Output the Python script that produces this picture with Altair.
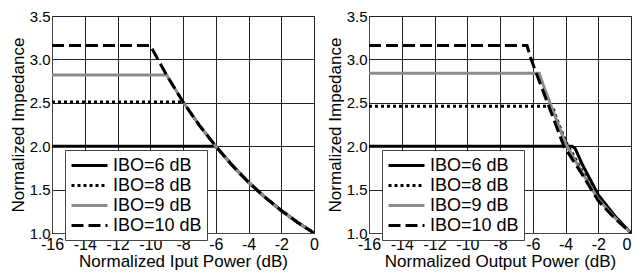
import altair as alt
import pandas as pd

series_names = ["IBO=6 dB", "IBO=8 dB", "IBO=9 dB", "IBO=10 dB"]

# Left panel: normalized input power (dB) vs normalized impedance
in_x_6 = [-16, -6, -5, -4, -3, -2, -1, 0]
in_y_6 = [2.0, 2.0, 1.78, 1.585, 1.413, 1.259, 1.122, 1.0]
in_x_8 = [-16, -8, -7, -6, -5, -4, -3, -2, -1, 0]
in_y_8 = [2.51, 2.51, 2.24, 2.0, 1.78, 1.585, 1.413, 1.259, 1.122, 1.0]
in_x_9 = [-16, -9, -8, -7, -6, -5, -4, -3, -2, -1, 0]
in_y_9 = [2.82, 2.82, 2.51, 2.24, 2.0, 1.78, 1.585, 1.413, 1.259, 1.122, 1.0]
in_x_10 = [-16, -10, -9, -8, -7, -6, -5, -4, -3, -2, -1, 0]
in_y_10 = [3.16, 3.16, 2.82, 2.51, 2.24, 2.0, 1.78, 1.585, 1.413, 1.259, 1.122, 1.0]

# Right panel: normalized output power (dB) vs normalized impedance
out_x_6 = [-16, -3.6, -3.4, -3.0, -2.0, -1.0, 0]
out_y_6 = [2.0, 2.0, 1.97, 1.8, 1.44, 1.2, 1.0]
out_x_8 = [-16, -4.8, -4.6, -4.3, -3.9, -3.0, -2.0, -1.0, 0]
out_y_8 = [2.46, 2.46, 2.35, 2.2, 2.02, 1.72, 1.4, 1.19, 1.0]
out_x_9 = [-16, -5.6, -5.35, -4.95, -4.0, -3.0, -2.0, -1.0, 0]
out_y_9 = [2.84, 2.84, 2.7, 2.5, 2.03, 1.7, 1.39, 1.18, 1.0]
out_x_10 = [-16, -6.35, -6.1, -5.6, -5.1, -4.6, -4.1, -3.0, -2.0, -1.0, 0]
out_y_10 = [3.16, 3.16, 3.0, 2.75, 2.5, 2.25, 2.0, 1.68, 1.37, 1.17, 1.0]

x_ticks = list(range(-16, 1, 2))
y_ticks = [1.0, 1.5, 2.0, 2.5, 3.0, 3.5]

FONT = "Liberation Sans"


def make_df(groups):
    rows = []
    for name, xs, ys in groups:
        for i, (a, b) in enumerate(zip(xs, ys)):
            rows.append({"series": name, "x": a, "y": b, "i": i})
    return pd.DataFrame(rows)


df_in = make_df([
    (series_names[0], in_x_6, in_y_6),
    (series_names[1], in_x_8, in_y_8),
    (series_names[2], in_x_9, in_y_9),
    (series_names[3], in_x_10, in_y_10),
])
df_out = make_df([
    (series_names[0], out_x_6, out_y_6),
    (series_names[1], out_x_8, out_y_8),
    (series_names[2], out_x_9, out_y_9),
    (series_names[3], out_x_10, out_y_10),
])


def panel(df, xtitle, last_right):
    legend = alt.Legend(
        title=None, orient="none", legendX=13, legendY=134,
        symbolType="M-1,0H3", symbolSize=324, symbolStrokeWidth=3,
        labelFont=FONT, labelFontSize=18, labelColor="black",
        labelOffset=22, padding=5, rowPadding=0,
        strokeColor="#444", fillColor="white", cornerRadius=0,
    )
    if last_right:
        x_align = {"condition": {"test": "datum.value === 0", "value": "right"},
                   "value": "center"}
    else:
        x_align = "center"
    return alt.Chart(df).mark_line(strokeWidth=3, clip=True).encode(
        x=alt.X("x:Q", title=xtitle,
                scale=alt.Scale(domain=[-16, 0], nice=False, zero=False),
                axis=alt.Axis(values=x_ticks, labelExpr="datum.value + ''",
                              labelFlush=False, labelOverlap=False,
                              labelAlign=x_align, labelFontSize=16,
                              titlePadding=1, labelPadding=3)),
        y=alt.Y("y:Q", title="Normalized Impedance",
                scale=alt.Scale(domain=[1.0, 3.5], nice=False, zero=False),
                axis=alt.Axis(values=y_ticks, format=".1f", labelFlush=False,
                              labelOverlap=False, labelFontSize=15,
                              titlePadding=2, labelPadding=2)),
        color=alt.Color("series:N", legend=legend,
                        scale=alt.Scale(domain=series_names,
                                        range=["black", "black", "#8c8c8c", "black"])),
        strokeDash=alt.StrokeDash("series:N", legend=legend,
                                  scale=alt.Scale(domain=series_names,
                                                  range=[[1, 0], [3, 3], [1, 0], [12, 5]])),
        detail="series:N",
        order="i:Q",
    ).properties(width=262, height=217)


left = panel(df_in, "Normalized Iput Power (dB)", False)
right = panel(df_out, "Normalized Output Power (dB)", True)

chart = alt.hconcat(left, right, spacing=55, bounds="flush").resolve_legend(
    color="independent", strokeDash="independent"
).properties(
    padding={"left": 0, "top": 0, "right": 0, "bottom": 0},
    background="white",
).configure_view(
    stroke="#444", strokeWidth=1
).configure_axis(
    grid=True, gridColor="#222", gridWidth=1, gridOpacity=1,
    domainColor="#444", ticks=False,
    labelFont=FONT, labelColor="black",
    titleFont=FONT, titleFontSize=17, titleFontWeight="normal", titleColor="black",
)

chart.save("out.html", embed_options={"renderer": "svg", "actions": False})
